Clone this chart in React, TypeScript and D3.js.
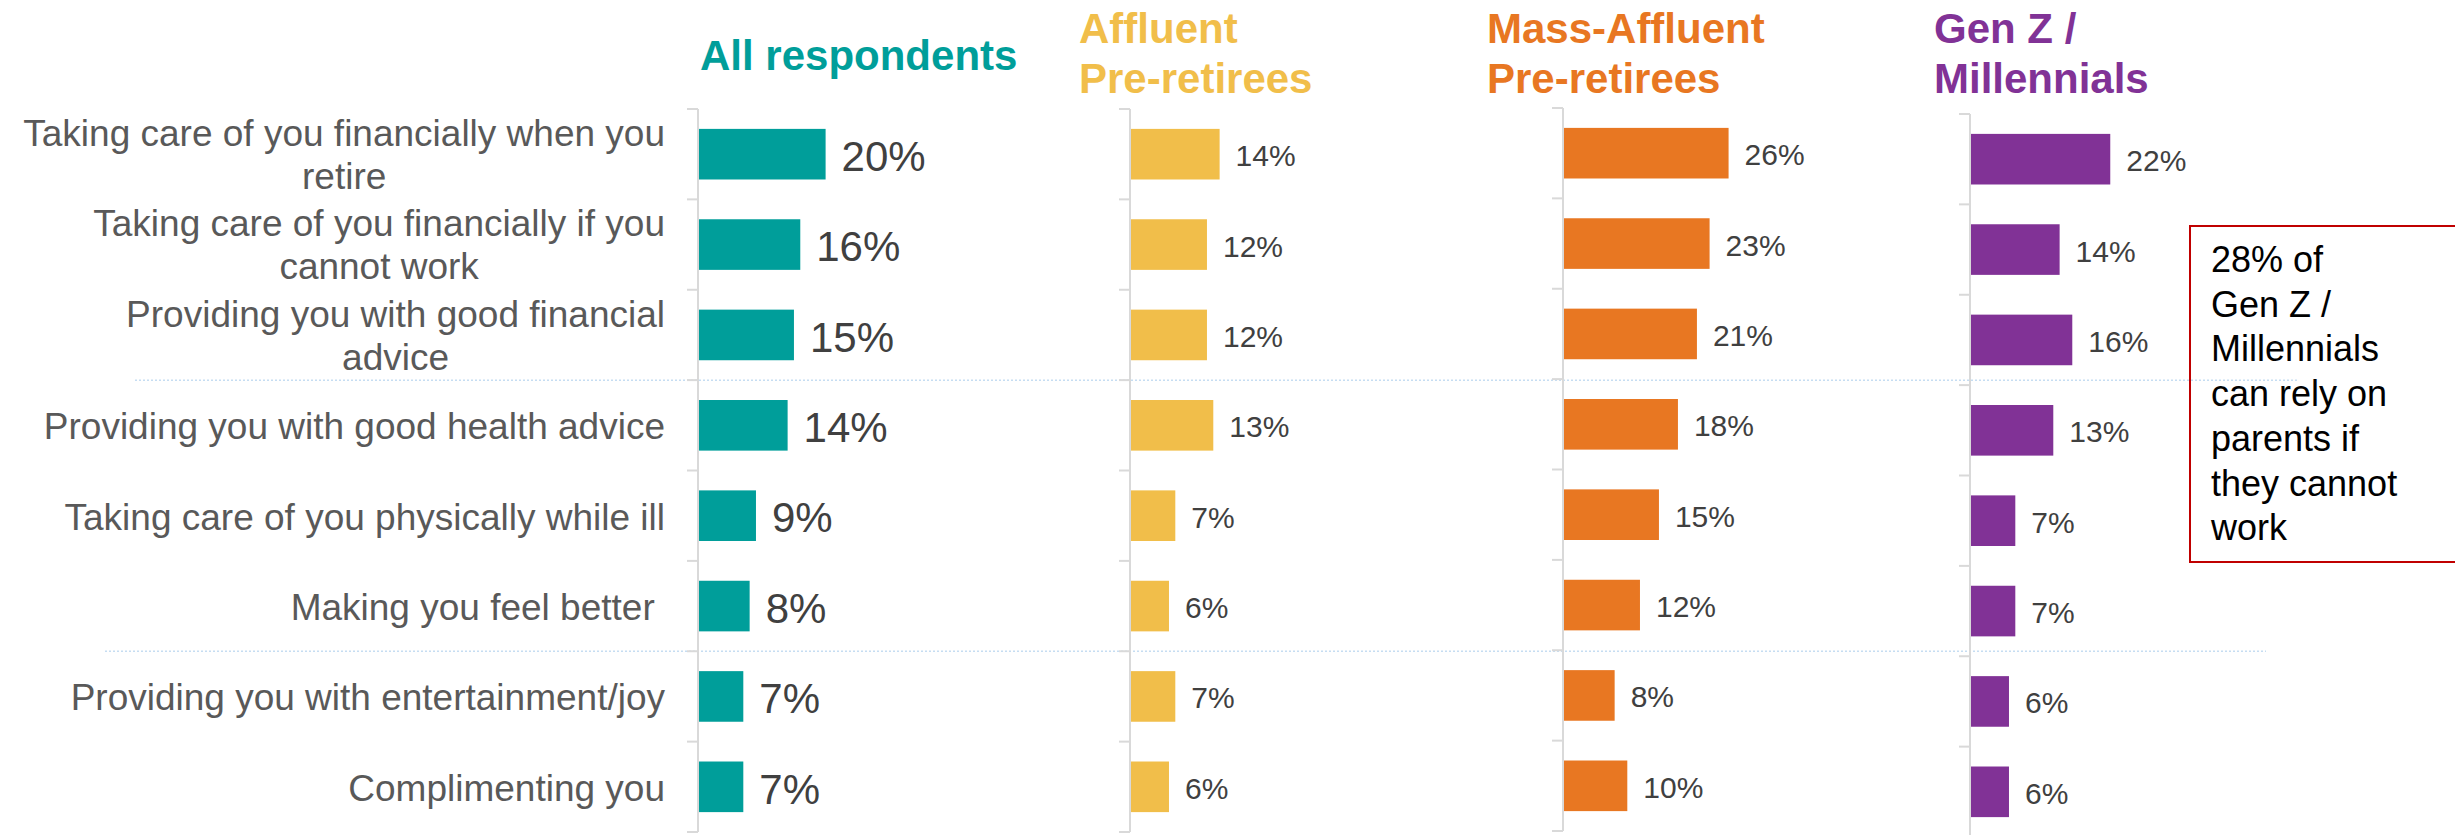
import React from "react";
import * as d3 from "d3";

const categories = [
  "Taking care of you financially when you retire",
  "Taking care of you financially if you cannot work",
  "Providing you with good financial advice",
  "Providing you with good health advice",
  "Taking care of you physically while ill",
  "Making you feel better ",
  "Providing you with entertainment/joy",
  "Complimenting you",
];
const categoryLines = [
  ["Taking care of you financially when you", "retire"],
  ["Taking care of you financially if you", "cannot work"],
  ["Providing you with good financial", "advice"],
  ["Providing you with good health advice"],
  ["Taking care of you physically while ill"],
  ["Making you feel better "],
  ["Providing you with entertainment/joy"],
  ["Complimenting you"],
];
const allValues = [20, 16, 15, 14, 9, 8, 7, 7];
const affluentValues = [14, 12, 12, 13, 7, 6, 7, 6];
const massValues = [26, 23, 21, 18, 15, 12, 8, 10];
const genzValues = [22, 14, 16, 13, 7, 7, 6, 6];

const seriesTitles = [
  ["All respondents"],
  ["Affluent", "Pre-retirees"],
  ["Mass-Affluent", "Pre-retirees"],
  ["Gen Z /", "Millennials"],
];
const noteLines = ["28% of", "Gen Z /", "Millennials", "can rely on", "parents if", "they cannot", "work"];

const FONT = '"Liberation Sans", Arial, Helvetica, sans-serif';
const W = 2455;
const H = 835;

function measure(text: string, size: number) {
  const c = document.createElement("canvas");
  const ctx = c.getContext("2d");
  if (!ctx) return text.length * size * 0.5;
  ctx.font = `${size}px "Liberation Sans", Arial, sans-serif`;
  return ctx.measureText(text).width;
}

const panels = [
  { values: allValues, title: seriesTitles[0], color: "#009E9A", axisX: 698, titleX: 700, top: 109, valueSize: 42 },
  { values: affluentValues, title: seriesTitles[1], color: "#F1BE4A", axisX: 1130, titleX: 1079, top: 109, valueSize: 30 },
  { values: massValues, title: seriesTitles[2], color: "#E87722", axisX: 1563, titleX: 1487, top: 108, valueSize: 30 },
  { values: genzValues, title: seriesTitles[3], color: "#813296", axisX: 1970, titleX: 1934, top: 114, valueSize: 30 },
];

const PLOT_H = 723;
const PX_PER_PCT = 6.33;

export default function App() {
  const x = d3.scaleLinear().domain([0, 30]).range([0, 30 * PX_PER_PCT]);
  const labelSize = 37;
  const labelRight = 665;
  const refY = d3
    .scaleBand<string>()
    .domain(categories)
    .range([109, 109 + PLOT_H])
    .paddingInner(0.44)
    .paddingOuter(0.22);

  const sep1 = refY.range()[0] + refY.step() * 3;
  const sep2 = refY.range()[0] + refY.step() * 6;

  return (
    <svg
      width={W}
      height={H}
      style={{ position: "absolute", left: 0, top: 0, background: "#fff" }}
      fontFamily={FONT}
    >
      <rect x={0} y={0} width={W} height={H} fill="#fff" />
      {/* separators */}
      <line x1={135} x2={2298} y1={sep1} y2={sep1} stroke="#C6DDF2" strokeWidth={1.5} strokeDasharray="2,2" />
      <line x1={105} x2={2266} y1={sep2} y2={sep2} stroke="#C6DDF2" strokeWidth={1.5} strokeDasharray="2,2" />

      {/* category labels */}
      {categories.map((c, i) => {
        const lines = categoryLines[i];
        const cy = (refY(c) as number) + refY.bandwidth() / 2;
        if (lines.length === 1) {
          return (
            <text
              key={c}
              x={labelRight}
              y={cy}
              dy="0.38em"
              textAnchor="end"
              fontSize={labelSize}
              fill="#595959"
              style={{ whiteSpace: "pre" }}
            >
              {lines[0]}
            </text>
          );
        }
        const maxW = Math.max(...lines.map((l) => measure(l, labelSize)));
        const cx = labelRight - maxW / 2;
        const lh = 43;
        return (
          <text key={c} textAnchor="middle" fontSize={labelSize} fill="#595959">
            {lines.map((l, j) => (
              <tspan key={j} x={cx} y={cy + 0.36 * labelSize + (j - (lines.length - 1) / 2) * lh}>
                {l}
              </tspan>
            ))}
          </text>
        );
      })}

      {panels.map((p, pi) => {
        const y = d3
          .scaleBand<string>()
          .domain(categories)
          .range([p.top, p.top + PLOT_H])
          .paddingInner(0.44)
          .paddingOuter(0.22);
        const [y0, y1] = y.range();
        const bounds = d3.range(categories.length + 1).map((k) => y0 + k * y.step());
        return (
          <g key={pi}>
            {p.title.map((t, j) => (
              <text
                key={j}
                x={p.titleX}
                y={p.title.length === 1 ? 70 : 43 + j * 50}
                fontSize={42}
                fontWeight="bold"
                fill={p.color}
              >
                {t}
              </text>
            ))}
            <line x1={p.axisX} x2={p.axisX} y1={y0} y2={y1} stroke="#D9D9D9" strokeWidth={2} />
            {bounds.map((b, k) => (
              <line key={k} x1={p.axisX - 11} x2={p.axisX} y1={b} y2={b} stroke="#D9D9D9" strokeWidth={2} />
            ))}
            {categories.map((c, i) => {
              const by = y(c) as number;
              const w = x(p.values[i]);
              return (
                <g key={c}>
                  <rect x={p.axisX + 1} y={by} width={w} height={y.bandwidth()} fill={p.color} />
                  <text
                    x={p.axisX + 1 + w + 16}
                    y={by + y.bandwidth() / 2}
                    dy="0.4em"
                    fontSize={p.valueSize}
                    fill="#404040"
                  >
                    {p.values[i]}%
                  </text>
                </g>
              );
            })}
          </g>
        );
      })}

      {/* annotation */}
      <rect x={2190} y={226} width={300} height={336} fill="none" stroke="#C00000" strokeWidth={2} />
      {noteLines.map((l, i) => (
        <text key={i} x={2211} y={272 + i * 44.7} fontSize={36} fill="#000">
          {l}
        </text>
      ))}
    </svg>
  );
}
